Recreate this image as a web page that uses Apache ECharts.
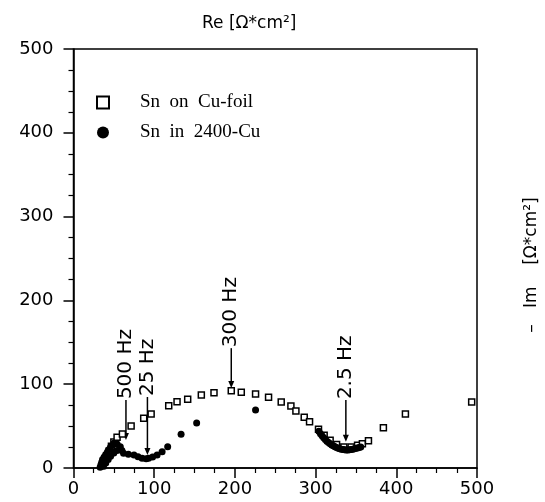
<!DOCTYPE html>
<html>
<head>
<meta charset="utf-8">
<script src="https://cdn.jsdelivr.net/npm/echarts@6/dist/echarts.min.js"></script>
<style>
html, body { margin: 0; padding: 0; background: #fff; }
#container { width: 545px; height: 502px; }
</style>
</head>
<body>
<div id="container"></div>
<script>
// Sn on Cu-foil (open squares) [Re, -Im]
var foilData = [
    [36, 3], [38, 8], [41, 14], [44, 20], [47, 26], [50, 31],
    [54, 36.6], [60.6, 40.6], [71.4, 50.1], [87, 59.3], [96.2, 64.4],
    [118, 74.3], [128.3, 79.1], [141.5, 82], [158.4, 87.1], [174.1, 89.9],
    [195.5, 92.2], [207.9, 90.3], [225.6, 88.3], [241.7, 84.4], [257.4, 78.8],
    [269.4, 74], [275.6, 68], [285.9, 60.5], [292.5, 55.3], [303.6, 46.2],
    [310.6, 39], [318, 33], [326, 28], [335, 25], [344, 25], [352, 27],
    [358, 29], [365.5, 32.6], [384, 48.1], [411.3, 64.4], [493.4, 78.8]
];
// Sn in 2400-Cu (filled circles)
var cuData = [
    [33, 1], [34, 4], [35, 7], [36, 10], [38, 13], [40, 16], [42, 19],
    [44, 22], [46, 25], [49.9, 29.5], [54, 28.5], [58, 25.4], [60, 21],
    [37, 2], [40, 6], [43, 10], [46, 14], [50, 18], [54, 21],
    [62, 17.5], [68, 16.5], [75, 15.5], [80, 13.5], [85, 11.6], [90, 11],
    [93, 11.6], [98, 13], [103.6, 15.5], [109.8, 19.5], [116.7, 25.4],
    [133.3, 40.2], [152.6, 53.7], [225.6, 69.2],
    [304, 44], [306, 41], [308, 38.5], [310, 36], [312, 34], [314, 32],
    [316, 30.5], [318, 29], [320, 27.5], [322, 26.5], [324, 25.5], [326, 24.5],
    [328, 23.5], [330, 23], [332, 22.5], [334, 22], [336, 21.7], [338, 21.5],
    [340, 21.5], [342, 21.7], [344, 22], [346, 22.5], [348, 23], [350, 23.5],
    [352, 24], [354, 24.5], [356, 25]
];
// frequency markers: [Re, text start, arrow tip, label]
var markers = [
    [65, 81, 33.4, '500 Hz'],
    [91.6, 84.7, 15.5, '25 Hz'],
    [195.5, 143, 95.5, '300 Hz'],
    [337.5, 81, 31.4, '2.5 Hz']
];
var axisTicks = [0, 100, 200, 300, 400, 500];

var myChart = echarts.init(document.getElementById('container'));
var sans = 'DejaVu Sans';
var option = {
    backgroundColor: '#fff',
    animation: false,
    title: {
        text: 'Re [Ω*cm²]',
        left: 197,
        top: 10,
        textStyle: {fontFamily: sans, fontSize: 17, fontWeight: 'normal', color: '#000'}
    },
    graphic: [{
        type: 'text',
        x: 532,
        y: 265,
        rotation: Math.PI / 2,
        style: {
            text: '–   Im    [Ω*cm²]',
            font: '17px "DejaVu Sans"',
            fill: '#000',
            align: 'center',
            verticalAlign: 'middle'
        }
    }],
    legend: {
        orient: 'vertical',
        left: 91,
        top: 88,
        itemWidth: 12,
        itemHeight: 12,
        itemGap: 11,
        formatter: function (name) {
            return name.replace(/ /g, '  ');
        },
        textStyle: {fontFamily: 'Liberation Serif', fontSize: 19, color: '#000', padding: [0, 0, 0, 26]},
        data: ['Sn on Cu-foil', 'Sn in 2400-Cu']
    },
    grid: {
        left: 73.5,
        right: 68,
        top: 49,
        bottom: 34,
        show: true,
        borderColor: '#000',
        borderWidth: 1.5,
        backgroundColor: 'transparent'
    },
    xAxis: {
        type: 'value',
        min: axisTicks[0],
        max: axisTicks[axisTicks.length - 1],
        interval: 100,
        axisLine: {show: true, lineStyle: {color: '#000', width: 1.5}},
        axisTick: {show: true, length: 10, lineStyle: {color: '#000', width: 1.5}},
        minorTick: {show: true, splitNumber: 4, length: 5, lineStyle: {color: '#000', width: 1.2}},
        axisLabel: {fontFamily: sans, fontSize: 18, color: '#000', margin: 12},
        splitLine: {show: false}
    },
    yAxis: {
        type: 'value',
        min: axisTicks[0],
        max: axisTicks[axisTicks.length - 1],
        interval: 100,
        axisLine: {show: true, lineStyle: {color: '#000', width: 1.5}},
        axisTick: {show: true, length: 10, lineStyle: {color: '#000', width: 1.5}},
        minorTick: {show: true, splitNumber: 4, length: 5, lineStyle: {color: '#000', width: 1.2}},
        axisLabel: {fontFamily: sans, fontSize: 18, color: '#000', margin: 20},
        splitLine: {show: false}
    },
    series: [
        {
            name: 'Sn on Cu-foil',
            type: 'scatter',
            symbol: 'rect',
            symbolSize: 6,
            itemStyle: {color: '#fff', borderColor: '#000', borderWidth: 1.5, opacity: 1},
            data: foilData
        },
        {
            name: 'Sn in 2400-Cu',
            type: 'scatter',
            symbol: 'circle',
            symbolSize: 7,
            itemStyle: {color: '#000', opacity: 1},
            data: cuData
        },
        {
            type: 'custom',
            silent: true,
            data: markers,
            renderItem: function (params, api) {
                var x = api.value(0);
                var p1 = api.coord([x, api.value(1)]);
                var p2 = api.coord([x, api.value(2)]);
                var label = markers[params.dataIndex][3];
                return {
                    type: 'group',
                    children: [
                        {
                            type: 'line',
                            shape: {x1: p1[0], y1: p1[1], x2: p2[0], y2: p2[1] - 5},
                            style: {stroke: '#000', lineWidth: 1.5}
                        },
                        {
                            type: 'polygon',
                            shape: {points: [[p2[0] - 3, p2[1] - 7], [p2[0] + 3, p2[1] - 7], [p2[0], p2[1]]]},
                            style: {fill: '#000'}
                        },
                        {
                            type: 'text',
                            x: p1[0],
                            y: p1[1] - 1,
                            rotation: Math.PI / 2,
                            style: {
                                text: label,
                                font: '20px "DejaVu Sans"',
                                fill: '#000',
                                align: 'left',
                                verticalAlign: 'middle'
                            }
                        }
                    ]
                };
            }
        }
    ]
};
myChart.setOption(option);
</script>
</body>
</html>
